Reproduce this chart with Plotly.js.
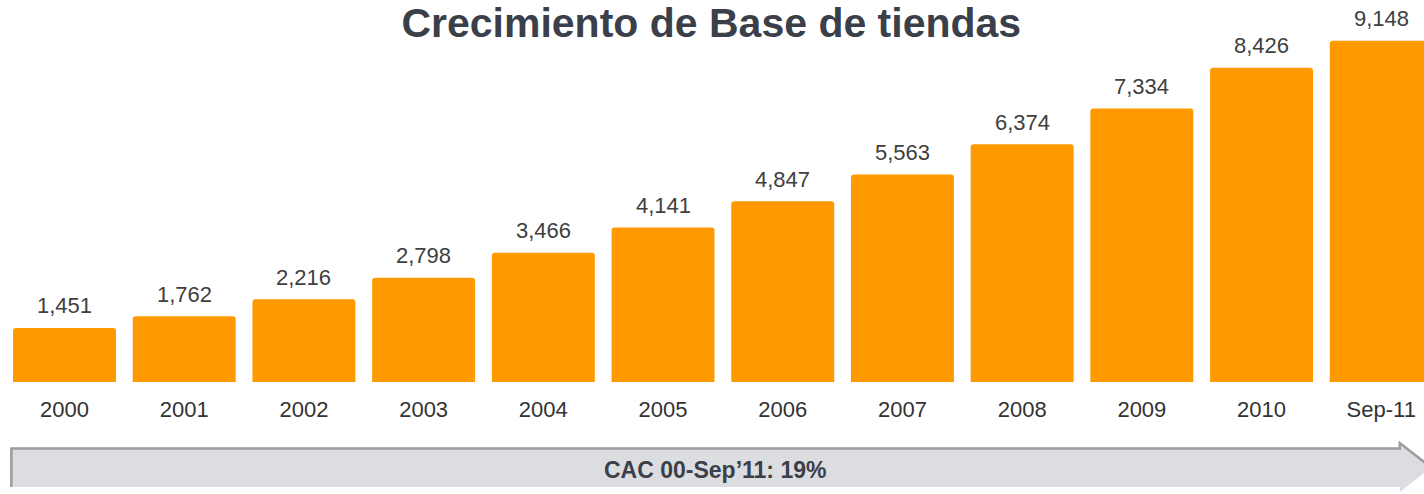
<!DOCTYPE html>
<html>
<head>
<meta charset="utf-8">
<script src="https://cdn.plot.ly/plotly-3.0.1.min.js"></script>
<style>
  html, body { margin: 0; padding: 0; background: #fff; }
  #chart { width: 1424px; height: 494px; }
</style>
</head>
<body>
<div id="chart"></div>
<script>
// store base per year
var years = ['2000', '2001', '2002', '2003', '2004', '2005', '2006', '2007', '2008', '2009', '2010', 'Sep-11'];
var stores = [1451, 1762, 2216, 2798, 3466, 4141, 4847, 5563, 6374, 7334, 8426, 9148];
var cacText = 'CAC 00-Sep\u201911: 19%';

var font = '"Liberation Sans", Arial, sans-serif';

var bars = {
    x: years,
    y: stores,
    type: 'bar',
    marker: { color: '#FF9900', cornerradius: 3 },
    hoverinfo: 'none'
};

// value labels above each bar (x by index, numeric strings would be read as positions)
var labels = years.map(function (yr, i) {
    return {
        x: i,
        y: stores[i],
        text: stores[i].toLocaleString('en-US'),
        showarrow: false,
        yanchor: 'middle',
        yshift: 22,
        font: { family: font, size: 22, color: '#404040' }
    };
});

labels.push({
    xref: 'paper', yref: 'paper',
    x: 0.502, y: -0.236,
    xanchor: 'center', yanchor: 'middle',
    text: '<b>' + cacText + '</b>',
    showarrow: false,
    font: { family: font, size: 23, color: '#3b3f4a' }
});

var layout = {
    width: 1424,
    height: 494,
    margin: { t: 9, l: 0, r: 0, b: 112 },
    paper_bgcolor: '#ffffff',
    plot_bgcolor: '#ffffff',
    showlegend: false,
    bargap: 0.14,
    title: {
        text: '<b>Crecimiento de Base de tiendas</b>',
        x: 0.4995, xanchor: 'center',
        y: 0.955, yanchor: 'middle',
        font: { family: font, size: 41, color: '#3b3f4a' }
    },
    xaxis: {
        type: 'category',
        range: [-0.539, 11.357],
        showgrid: false,
        zeroline: false,
        showline: false,
        ticks: '',
        ticklabelstandoff: 12,
        tickfont: { family: font, size: 22, color: '#333333' },
        fixedrange: true
    },
    yaxis: {
        range: [0, 10000],
        visible: false,
        fixedrange: true
    },
    annotations: labels,
    shapes: [
        {
            // arrow body + head
            type: 'path', xref: 'paper', yref: 'paper',
            path: 'M 0.007 -0.177 L 0.983 -0.177 L 0.983 -0.1635 L 1.005 -0.229 ' +
                  'L 0.983 -0.295 L 0.983 -0.2815 L 0.007 -0.2815 Z',
            fillcolor: '#dcdde1',
            line: { width: 0 },
            layer: 'below'
        },
        {
            // darker top/left edge
            type: 'path', xref: 'paper', yref: 'paper',
            path: 'M 0.008 -0.2815 L 0.008 -0.178 L 0.983 -0.178 L 0.983 -0.1635 L 1.005 -0.229',
            line: { color: '#9c9c9c', width: 2.5 },
            layer: 'below'
        }
    ]
};

Plotly.newPlot('chart', [bars], layout, { displayModeBar: false, staticPlot: true });
</script>
</body>
</html>
